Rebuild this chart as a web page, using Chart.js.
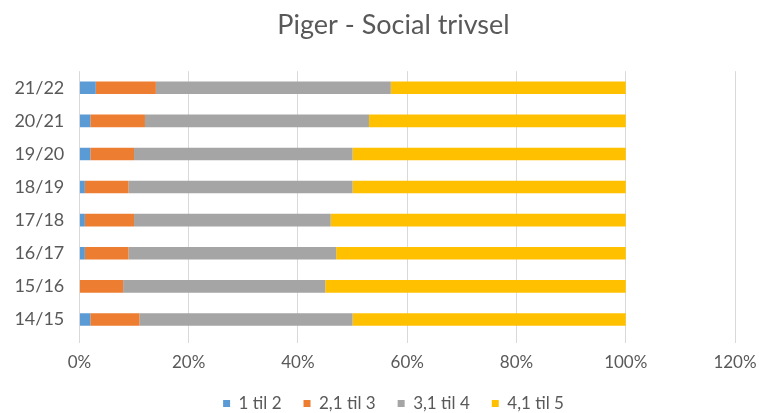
<!DOCTYPE html>
<html lang="da">
<head>
<meta charset="UTF-8">
<title>Piger - Social trivsel</title>
<script src="https://cdn.jsdelivr.net/npm/chart.js@4.4.0/dist/chart.umd.min.js"></script>
<style>
  html, body { margin: 0; padding: 0; background: #fff; }
  #wrap { width: 759px; height: 413px; }
</style>
</head>
<body>
<div id="wrap"><canvas id="chart"></canvas></div>
<script>
// skoleår, øverst til nederst
var years = ['21/22', '20/21', '19/20', '18/19', '17/18', '16/17', '15/16', '14/15'];
// andel i procent pr. svarinterval
var s1til2   = [3, 2, 2, 1, 1, 1, 0, 2];
var s21til3  = [11, 10, 8, 8, 9, 8, 8, 9];
var s31til4  = [43, 41, 40, 41, 36, 38, 37, 39];
var s41til5  = [43, 47, 50, 50, 54, 53, 55, 50];
var xTicks = [0, 20, 40, 60, 80, 100, 120];

var txt = '#595959';
var font = 'Lato, "Open Sans", sans-serif';

function ds(label, data, color) {
    return { label: label, data: data, backgroundColor: color, borderWidth: 0,
             barPercentage: 0.38, categoryPercentage: 1.0 };
}

new Chart(document.getElementById('chart'), {
    type: 'bar',
    data: {
        labels: years,
        datasets: [
            ds('1 til 2', s1til2, '#5b9bd5'),
            ds('2,1 til 3', s21til3, '#ed7d31'),
            ds('3,1 til 4', s31til4, '#a5a5a5'),
            ds('4,1 til 5', s41til5, '#ffc000')
        ]
    },
    options: {
        indexAxis: 'y',
        responsive: true,
        maintainAspectRatio: false,
        animation: false,
        // venstre padding større end højre, så titel og forklaring centreres som i Excel
        layout: { padding: { left: 52, right: 24, top: 5, bottom: -9 } },
        plugins: {
            title: {
                display: true, text: 'Piger - Social trivsel', color: txt,
                font: { family: font, size: 27, weight: 'normal' },
                padding: { top: 4, bottom: 29.8 }
            },
            legend: {
                position: 'bottom',
                labels: {
                    color: txt, boxWidth: 7, boxHeight: 7, padding: 22,
                    font: { family: font, size: 17 }
                }
            },
            tooltip: { enabled: false }
        },
        scales: {
            x: {
                stacked: true, min: 0, max: 120,
                afterBuildTicks: function (axis) {
                    axis.ticks = xTicks.map(function (v) { return { value: v }; });
                },
                afterFit: function (axis) {
                    axis.height = 37;
                    axis.paddingRight = 0;
                },
                grid: { color: '#d9d9d9', tickLength: 7 },
                border: { display: false },
                ticks: {
                    color: txt, padding: 11.5,
                    font: { family: font, size: 17, lineHeight: 1 },
                    callback: function (v) { return v + '%'; }
                }
            },
            y: {
                stacked: true,
                grid: { display: false },
                border: { display: false },
                afterFit: function (axis) { axis.width = 27.4; },
                // spejlet og negativ afstand, så etiketterne står til venstre for aksen
                ticks: { mirror: true, padding: -65, color: txt, font: { family: font, size: 18 } }
            }
        }
    }
});
</script>
</body>
</html>
